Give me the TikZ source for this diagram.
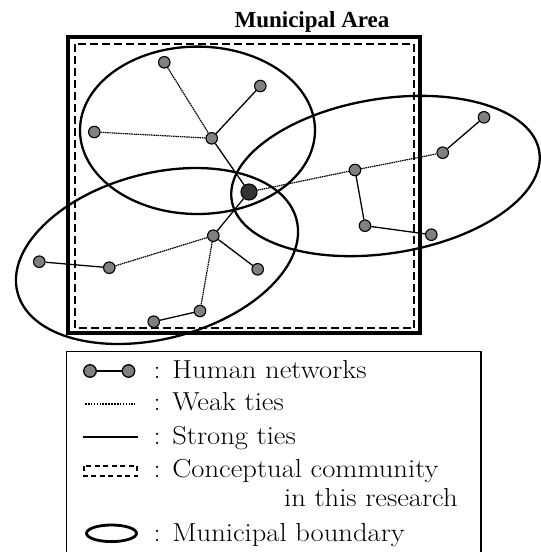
\documentclass[tikz,border=0pt]{standalone}
\usepackage{fontspec}
\setmainfont{Latin Modern Roman}[FakeStretch=1.1]
\newfontfamily\titlefont{Liberation Serif}

\begin{document}
\begin{tikzpicture}[x=1pt,y=-1pt,
  person/.style={circle,draw,line width=1.1pt,fill=gray,inner sep=0pt,minimum size=11.5pt},
  hub/.style={person,fill=black!80,minimum size=16pt},
  strong/.style={line width=1.3pt},
  weak/.style={line width=1.2pt,dash pattern=on 1.5pt off 0.7pt},
  boundary/.style={line width=2.3pt},
  legendtext/.style={anchor=base west,inner sep=0pt,font=\fontsize{26}{30}\selectfont}]
\useasboundingbox (0,0) rectangle (541,552);

\node[anchor=base,inner sep=0pt,font=\titlefont\bfseries\fontsize{23}{27}\selectfont] (title) at (312,27) {Municipal Area};

\draw[line width=4pt] (68,37) rectangle (420,333);
\draw[line width=2pt,dash pattern=on 8pt off 4pt] (75,43.5) rectangle (414,328);

\draw[boundary] (197.5,130.3) ellipse [x radius=117.5,y radius=83.7];
\draw[boundary,rotate around={9:(385.5,176)}] (385.5,176) ellipse [x radius=155.7,y radius=77.3];
\draw[boundary,rotate around={14.7:(157,256)}] (157,256) ellipse [x radius=144.2,y radius=82.7];

\node[person] (a) at (164.3,62.3) {};
\node[person] (b) at (260.3,86) {};
\node[person] (c) at (94.3,132) {};
\node[person] (d) at (211.7,138.3) {};
\node[hub]    (e) at (249,192) {};
\node[person] (f) at (355,170) {};
\node[person] (g) at (442.7,152.7) {};
\node[person] (h) at (484,117.3) {};
\node[person] (i) at (365,225.7) {};
\node[person] (j) at (431.3,234.7) {};
\node[person] (k) at (213.3,235.7) {};
\node[person] (l) at (257.7,269.3) {};
\node[person] (m) at (109.3,267.7) {};
\node[person] (n) at (39.3,261.7) {};
\node[person] (o) at (200,311) {};
\node[person] (p) at (153.7,321.7) {};

\foreach \s/\t in {a/d,c/d,e/f,f/g,k/m,k/o}
    \draw[weak] (\s) -- (\t);
\foreach \s/\t in {b/d,d/e,g/h,f/i,i/j,e/k,k/l,m/n,o/p}
    \draw[strong] (\s) -- (\t);

\draw[line width=1.5pt] (66.5,560) -- (66.5,351.5) -- (481,351.5) -- (481,560);

\node[person,minimum size=12.5pt,line width=1.3pt] (key1) at (90,371) {};
\node[person,minimum size=12.5pt,line width=1.3pt] (key2) at (128.5,371) {};
\draw[strong] (key1) -- (key2);
\node[legendtext] (t1) at (153.5,378.3) {: Human networks};

\coordinate (weak1) at (85,403.5);
\coordinate (weak2) at (135,403.5);
\draw[line width=2pt,dash pattern=on 1.6pt off 1.3pt] (weak1) -- (weak2);
\node[legendtext] (t2) at (153.5,410.7) {: Weak ties};

\coordinate (strong1) at (83,437);
\coordinate (strong2) at (138,437);
\draw[line width=1.6pt] (strong1) -- (strong2);
\node[legendtext] (t3) at (153.5,444) {: Strong ties};

\draw[line width=1.8pt,dash pattern=on 5pt off 3.5pt] (84,466) rectangle (137,476);
\node[legendtext] (t4) at (153.5,477.3) {: Conceptual community};
\node[legendtext] (t5) at (284,506.7) {in this research};

\draw[line width=2.8pt] (111.5,533.3) ellipse [x radius=25,y radius=8.3];
\node[legendtext] (t6) at (153.5,541.7) {: Municipal boundary};
\end{tikzpicture}
\end{document}
